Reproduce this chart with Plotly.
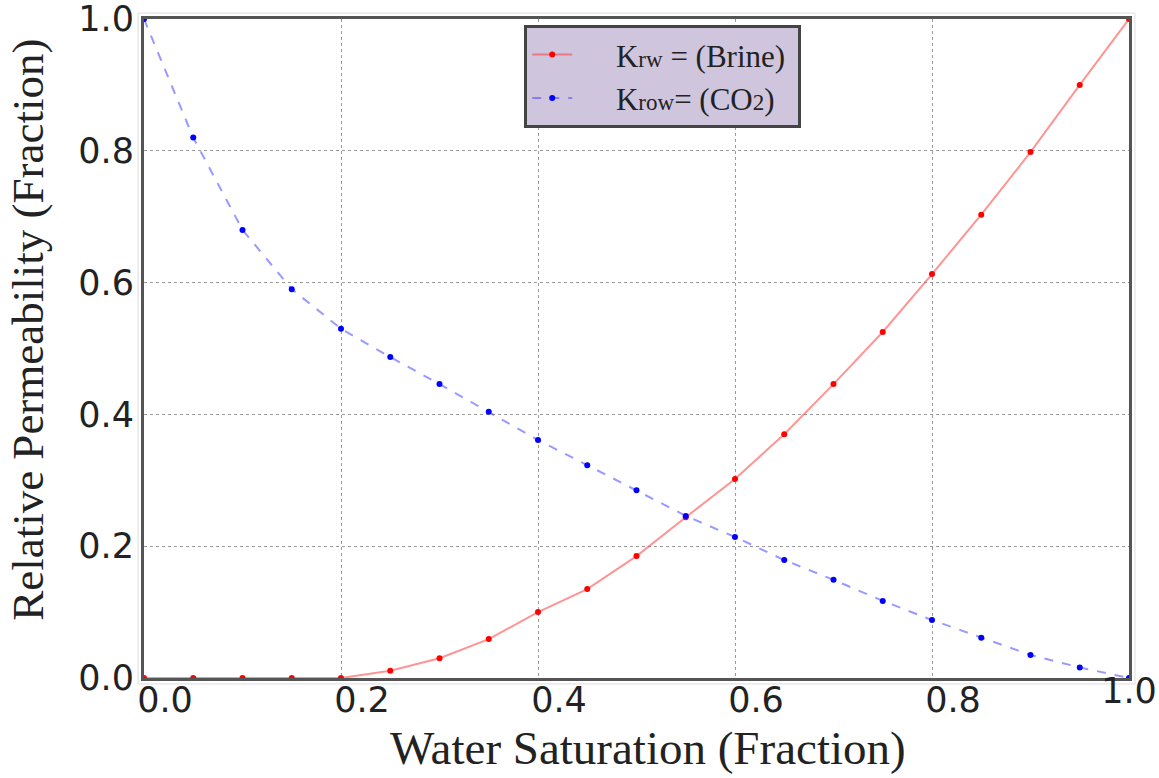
import plotly.graph_objects as go

# Water saturation (fraction)
sw = [0.00, 0.05, 0.10, 0.15, 0.20, 0.25, 0.30, 0.35, 0.40, 0.45, 0.50,
      0.55, 0.60, 0.65, 0.70, 0.75, 0.80, 0.85, 0.90, 0.95, 1.00]
# Krw (Brine)
krw = [0.000, 0.000, 0.000, 0.000, 0.000, 0.011, 0.030, 0.059, 0.100, 0.135, 0.185,
       0.244, 0.302, 0.370, 0.446, 0.525, 0.613, 0.703, 0.798, 0.900, 1.000]
# Krow (CO2)
krow = [1.000, 0.820, 0.680, 0.590, 0.530, 0.487, 0.446, 0.404, 0.361, 0.323, 0.285,
        0.246, 0.214, 0.179, 0.149, 0.117, 0.088, 0.061, 0.035, 0.016, 0.000]

ticks = [0.0, 0.2, 0.4, 0.6, 0.8, 1.0]
tick_text = ["0.0", "0.2", "0.4", "0.6", "0.8", "1.0"]

x_title = "Water Saturation (Fraction)"
y_title = "Relative Permeability (Fraction)"

pad = "&nbsp;" * 5
fig = go.Figure()
fig.add_trace(go.Scatter(
    x=sw, y=krw, mode="lines+markers",
    name=pad + "K<span style='font-size:23px'>rw</span> = (Brine)&nbsp;",
    line=dict(color="rgba(255,60,60,0.55)", width=2),
    marker=dict(color="#ff0000", size=6),
    cliponaxis=False,
))
fig.add_trace(go.Scatter(
    x=sw, y=krow, mode="lines+markers",
    name=pad + "K<span style='font-size:23px'>row</span>= (CO<span style='font-size:23px'>2</span>)",
    line=dict(color="rgba(70,70,255,0.55)", width=2, dash="dash"),
    marker=dict(color="#0000ff", size=6),
    cliponaxis=False,
))
# empty helper trace so the overlay axis carrying the last x label is drawn
fig.add_trace(go.Scatter(x=[], y=[], xaxis="x2", yaxis="y",
                         showlegend=False, hoverinfo="skip"))

tick_font = dict(family="DejaVu Sans", size=35, color="#222222")
axis_common = dict(
    range=[0, 1],
    showgrid=True, gridcolor="#9a9a9a", griddash="dot", gridwidth=1,
    showline=True, mirror=True, linecolor="#555555", linewidth=3,
    zeroline=False, ticks="", automargin=False,
    ticklabeloverflow="allow",
    tickfont=tick_font,
)

fig.update_layout(
    width=1159, height=778,
    margin=dict(l=144, r=30, t=19, b=100),
    paper_bgcolor="white", plot_bgcolor="white",
    xaxis=dict(**axis_common, tickvals=ticks[:-1], ticktext=tick_text[:-1],
               ticklabelstandoff=-11, ticklabelshift=21),
    xaxis2=dict(range=[0, 1], overlaying="x", side="bottom", anchor="y",
                tickvals=ticks[-1:], ticktext=tick_text[-1:],
                showgrid=False, showline=False, zeroline=False, ticks="",
                automargin=False, ticklabeloverflow="allow",
                ticklabelstandoff=-11, tickfont=tick_font),
    yaxis=dict(**axis_common, tickvals=ticks, ticktext=tick_text),
    legend=dict(
        x=0.386, y=0.991, xanchor="left", yanchor="top",
        bgcolor="#cfc6dd", bordercolor="#444444", borderwidth=3,
        font=dict(family="Liberation Serif", size=31, color="#222222"),
        itemwidth=40, tracegroupgap=0,
    ),
    showlegend=True,
    annotations=[
        dict(text=x_title, xref="paper", yref="paper", x=0.5117, y=-0.1062,
             xanchor="center", yanchor="middle", showarrow=False,
             font=dict(family="Liberation Serif", size=47, color="#222222")),
        dict(text=y_title, xref="paper", yref="paper", x=-0.118, y=0.528,
             xanchor="center", yanchor="middle", textangle=-90, showarrow=False,
             font=dict(family="Liberation Serif", size=45, color="#222222")),
    ],
    shapes=[dict(type="rect", xref="paper", yref="paper",
                 x0=-0.006, x1=1.006, y0=-0.009, y1=1.009,
                 line=dict(color="#dddddd", width=1), layer="below")],
)

fig.write_html("out.html")
